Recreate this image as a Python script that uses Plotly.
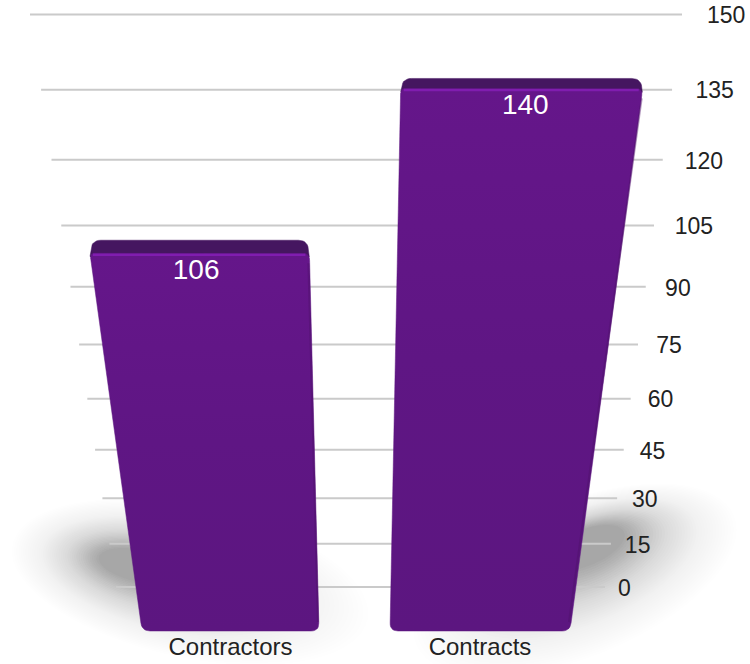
import numpy as np
import plotly.graph_objects as go

categories = ["Contractors", "Contracts"]
values = [106, 140]
tick_values = [0, 15, 30, 45, 60, 75, 90, 105, 120, 135, 150]
tick_labels = ["0", "15", "30", "45", "60", "75", "90", "105", "120", "135", "150"]
bar_base_left = [142, 390]
bar_base_right = [319, 570]

TOP = "#451660"
EDGE = "#8A20BC"


def wall_s(v):
    return 1 / (1 - v / 600)


def wall_y(v):
    return 587 - 2.805 * v / (1 - 0.001767 * v)


def wall_x(a, v):
    return 374 + (a - 374) * wall_s(v)


def label_x(v):
    return 351 + 267 * wall_s(v)


def front_y(v):
    return 631 - 2.85 * v / (1 - 0.00189 * v)


def front_x(x0, y):
    return x0 + 0.000635 * (x0 - 359) * (631 - y)


def rounded(pts, radii, n=8):
    out_x, out_y = [], []
    pts = [np.array(p, float) for p in pts]
    for i, p in enumerate(pts):
        a, b = pts[i - 1], pts[(i + 1) % len(pts)]
        r = radii[i]
        p1 = p + (a - p) / np.linalg.norm(a - p) * r
        p2 = p + (b - p) / np.linalg.norm(b - p) * r
        for t in np.linspace(0, 1, n):
            q = (1 - t) ** 2 * p1 + 2 * t * (1 - t) * p + t ** 2 * p2
            out_x.append(q[0])
            out_y.append(q[1])
    out_x.append(out_x[0])
    out_y.append(out_y[0])
    return out_x, out_y


def blob_path(cx, cy, rx, ry, deg):
    t = np.linspace(0, 2 * np.pi, 72)
    c, s = np.cos(np.radians(deg)), np.sin(np.radians(deg))
    xs = cx + rx * np.cos(t) * c - ry * np.sin(t) * s
    ys = cy + rx * np.cos(t) * s + ry * np.sin(t) * c
    return "M" + " L".join(f"{a:.1f},{b:.1f}" for a, b in zip(xs, ys)) + " Z"


fig = go.Figure()

# soft floor shadow
shapes = []
N = 40
for i in range(N):
    f = i / (N - 1)
    alpha = 0.002 + 0.03 * f ** 2
    for cx0, cx1, cy0, cy1, rx0, rx1, ry0, ry1, deg in [
        (190, 140, 582, 566, 182, 42, 76, 16, 12),
        (575, 585, 580, 548, 172, 42, 78, 18, -22),
    ]:
        shapes.append(dict(
            type="path", xref="x", yref="y", layer="below", line_width=0,
            fillcolor=f"rgba(60,60,60,{alpha:.4f})",
            path=blob_path(cx0 + (cx1 - cx0) * f, cy0 + (cy1 - cy0) * f,
                           rx0 + (rx1 - rx0) * f, ry0 + (ry1 - ry0) * f, deg),
        ))

# grid lines
for v in tick_values:
    fig.add_trace(go.Scatter(
        x=[wall_x(116, v), wall_x(605, v)], y=[wall_y(v), wall_y(v)],
        mode="lines", line=dict(color="#CACACA", width=2), hoverinfo="skip",
    ))

# axis labels
fig.add_trace(go.Scatter(
    x=[label_x(v) for v in tick_values], y=[wall_y(v) + 3 for v in tick_values],
    text=tick_labels, mode="text", textposition="middle right",
    textfont=dict(family="Liberation Sans", size=23, color="#222222"),
))

# bars
for name, val, bl, br in zip(categories, values, bar_base_left, bar_base_right):
    yt = front_y(val)
    xl, xr = front_x(bl, yt), front_x(br, yt)
    depth = 13 if val < 120 else 10
    # top face
    tx, ty = rounded([(xl, yt + 4), (xl + 2, yt - depth), (xr - 2, yt - depth), (xr, yt + 4)],
                     [1, 9, 9, 1])
    fig.add_trace(go.Scatter(x=tx, y=ty, mode="lines", fill="toself", fillcolor=TOP,
                             line=dict(color=TOP, width=0.5), name=name))
    # front face
    fx, fy = rounded([(xl, yt), (xr, yt), (br, 631), (bl, 631)], [5, 7, 8, 8])
    fig.add_trace(go.Scatter(
        x=fx, y=fy, mode="lines", fill="toself", line=dict(color="#5E1680", width=0.5), name=name,
        fillgradient=dict(type="vertical", start=yt, stop=631,
                          colorscale=[[0, "#65168A"], [0.5, "#5F1684"], [1, "#5C1680"]]),
    ))
    # darker right side edge
    fig.add_trace(go.Scatter(x=[xr - 1, br - 1], y=[yt + 10, 622], mode="lines", opacity=0.4,
                             line=dict(color="#4D1268", width=2), hoverinfo="skip"))
    # lit top edge
    fig.add_trace(go.Scatter(x=[xl + 3, xr - 4], y=[yt + 1.5, yt + 1.5], mode="lines", opacity=0.75,
                             line=dict(color=EDGE, width=2.5), hoverinfo="skip"))
    # value label
    mid = (xl + xr) / 2
    fig.add_trace(go.Scatter(x=[mid + (mid - 359) * 0.022], y=[yt + 19], text=[str(val)], mode="text",
                             textposition="middle center",
                             textfont=dict(family="Liberation Sans", size=28, color="#FFFFFF")))
    # category label
    fig.add_trace(go.Scatter(x=[(bl + br) / 2], y=[649], text=[name], mode="text",
                             textposition="middle center",
                             textfont=dict(family="Liberation Sans", size=24, color="#222222")))

fig.update_layout(
    width=750, height=664, margin=dict(l=0, r=0, t=0, b=0),
    paper_bgcolor="white", plot_bgcolor="white", showlegend=False, shapes=shapes,
    xaxis=dict(range=[0, 750], visible=False, fixedrange=True),
    yaxis=dict(range=[664, 0], visible=False, fixedrange=True),
)
fig.write_html("out.html", config={"displayModeBar": False},
               post_script="document.body.style.margin='0';document.documentElement.style.overflow='hidden';")
